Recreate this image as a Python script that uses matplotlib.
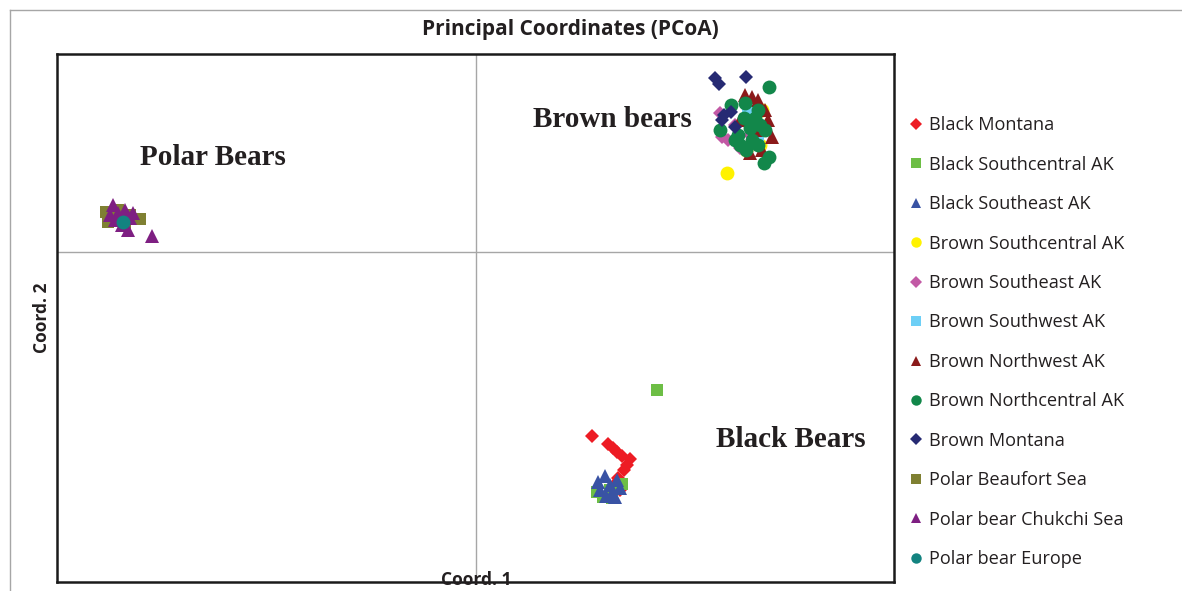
import matplotlib.pyplot as plt
from matplotlib.lines import Line2D

## Group names and styles (legend order)
groups = ["Black Montana", "Black Southcentral AK", "Black Southeast AK",
          "Brown Southcentral AK", "Brown Southeast AK", "Brown Southwest AK",
          "Brown Northwest AK", "Brown Northcentral AK", "Brown Montana",
          "Polar Beaufort Sea", "Polar bear Chukchi Sea", "Polar bear Europe"]
colors = ["#ED1C24", "#6DBE45", "#3953A4", "#FFF200", "#C259A5", "#6DCFF6",
          "#8B1A1A", "#12874A", "#262A73", "#7F8032", "#7E1F82", "#138380"]
markers = ["D", "s", "^", "o", "D", "s", "^", "o", "D", "s", "^", "o"]
sizes = {"D": 7.5, "s": 8, "^": 9.5, "o": 10}

## Coordinates (Coord. 1, Coord. 2)
black_montana_x = [1.16, 1.32, 1.37, 1.41, 1.46, 1.54, 1.51, 1.48, 1.42, 1.38, 1.44, 1.34]
black_montana_y = [-1.84, -1.92, -1.96, -2.00, -2.04, -2.07, -2.13, -2.18, -2.26, -2.33, -2.38, -2.40]
black_sc_x = [1.81, 1.27, 1.36, 1.46, 1.34, 1.21]
black_sc_y = [-1.38, -2.45, -2.46, -2.32, -2.38, -2.40]
black_se_x = [1.22, 1.29, 1.34, 1.41, 1.24, 1.36, 1.44, 1.30, 1.39]
black_se_y = [-2.30, -2.24, -2.33, -2.28, -2.38, -2.41, -2.36, -2.44, -2.45]
brown_sc_x = [2.51, 2.86, 2.84, 2.70]
brown_sc_y = [0.79, 1.42, 1.07, 1.02]
brown_se_x = [2.44, 2.46, 2.52, 2.64, 2.59, 2.74]
brown_se_y = [1.39, 1.15, 1.12, 1.04, 1.27, 1.17]
brown_sw_x = [2.89, 2.82, 2.72]
brown_sw_y = [1.22, 1.12, 1.40]
brown_nw_x = [2.69, 2.76, 2.82, 2.89, 2.96, 2.86, 2.74, 2.80, 2.64, 2.92]
brown_nw_y = [1.57, 1.55, 1.52, 1.42, 1.15, 1.02, 0.99, 1.22, 1.32, 1.32]
brown_nc_x = [2.93, 2.55, 2.69, 2.82, 2.44, 2.62, 2.74, 2.84, 2.68, 2.76, 2.89, 2.64,
              2.82, 2.93, 2.88, 2.70, 2.59, 2.79]
brown_nc_y = [1.65, 1.47, 1.49, 1.42, 1.22, 1.17, 1.24, 1.27, 1.34, 1.12, 1.22, 1.07,
              1.07, 0.95, 0.89, 1.02, 1.12, 1.34]
brown_montana_x = [2.39, 2.43, 2.70, 2.48, 2.46, 2.59, 2.55]
brown_montana_y = [1.74, 1.68, 1.75, 1.37, 1.32, 1.25, 1.40]
polar_beaufort_x = [-3.70, -3.58, -3.36, -3.68, -3.46, -3.51]
polar_beaufort_y = [0.40, 0.42, 0.33, 0.30, 0.37, 0.26]
polar_chukchi_x = [-3.63, -3.58, -3.51, -3.46, -3.61, -3.54, -3.48, -3.43, -3.24, -3.66]
polar_chukchi_y = [0.47, 0.39, 0.42, 0.34, 0.32, 0.27, 0.22, 0.39, 0.16, 0.37]
polar_europe_x = [-3.53]
polar_europe_y = [0.30]

xs = [black_montana_x, black_sc_x, black_se_x, brown_sc_x, brown_se_x, brown_sw_x,
      brown_nw_x, brown_nc_x, brown_montana_x, polar_beaufort_x, polar_chukchi_x, polar_europe_x]
ys = [black_montana_y, black_sc_y, black_se_y, brown_sc_y, brown_se_y, brown_sw_y,
      brown_nw_y, brown_nc_y, brown_montana_y, polar_beaufort_y, polar_chukchi_y, polar_europe_y]

fig = plt.figure(figsize=(11.82, 5.91), dpi=100)
ax = fig.add_axes([0.0482, 0.0152, 0.7081, 0.8934])

ax.axvline(0, color="#A6A6A6", lw=1, zorder=0)
ax.axhline(0, color="#A6A6A6", lw=1, zorder=0)

for x, y, c, m in zip(xs, ys, colors, markers):
    ax.plot(x, y, linestyle="none", marker=m, color=c, markersize=sizes[m], markeredgewidth=0)

ax.set_xlim(-4.19, 4.18)
ax.set_ylim(-3.30, 1.98)
ax.set_xticks([])
ax.set_yticks([])
for s in ax.spines.values():
    s.set_linewidth(1.8)
    s.set_color("#1a1a1a")

## Cluster labels
lab = dict(family="Liberation Serif", weight="bold", fontsize=21, ha="center",
           va="center", color="#231F20")
ax.text(-2.63, 0.95, "Polar Bears", **lab)
ax.text(1.36, 1.33, "Brown bears", **lab)
ax.text(3.15, -1.87, "Black Bears", **lab)

fig.text(570 / 1182, 1 - 30 / 591, "Principal Coordinates (PCoA)", family="Open Sans",
         weight="bold", fontsize=15, ha="center", va="center", color="#231F20")
fig.text(476 / 1182, 1 - 580 / 591, "Coord. 1", family="Open Sans", weight="bold",
         fontsize=12.5, ha="center", va="center", color="#231F20")
fig.text(42 / 1182, 1 - 318 / 591, "Coord. 2", family="Open Sans", weight="bold",
         fontsize=12.5, ha="center", va="center", rotation=90, color="#231F20")

## Outer frame
fig.add_artist(Line2D([10 / 1182, 1], [1 - 10 / 591, 1 - 10 / 591], color="#A6A6A6", lw=1))
fig.add_artist(Line2D([10 / 1182, 10 / 1182], [0, 1 - 10 / 591], color="#A6A6A6", lw=1))

handles = [Line2D([], [], linestyle="none", marker=m, color=c, markeredgewidth=0,
                  markersize=6.5 if m == "D" else 7.5) for c, m in zip(colors, markers)]
fig.legend(handles, groups, loc="upper left", bbox_to_anchor=(900 / 1182, 1 - 107 / 591),
           frameon=False, prop={"family": "Open Sans", "size": 13.1},
           handlelength=0.8, handletextpad=0.3, labelspacing=1.18, borderpad=0,
           labelcolor="#231F20")

fig.savefig("out.png", dpi=100)
